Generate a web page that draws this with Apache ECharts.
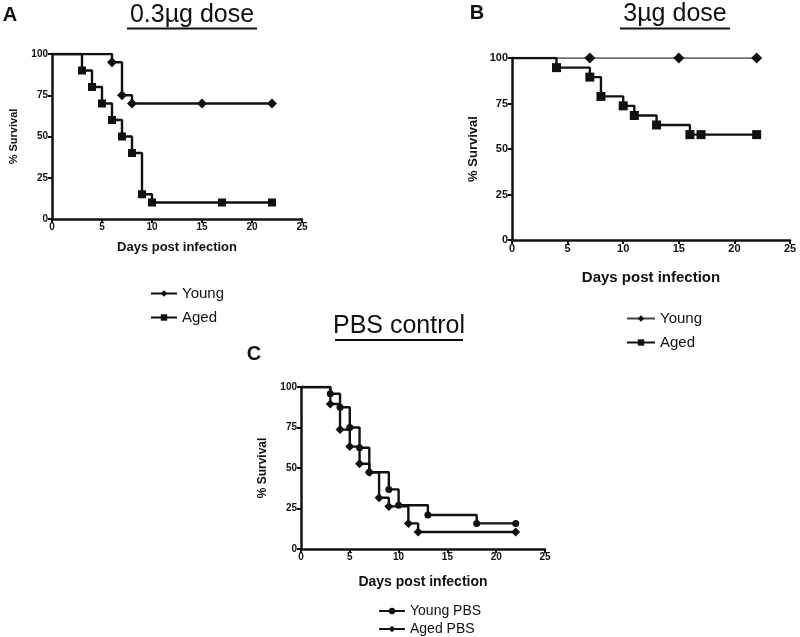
<!DOCTYPE html>
<html>
<head>
<meta charset="utf-8">
<script src="https://cdn.jsdelivr.net/npm/echarts@6/dist/echarts.min.js"></script>
<style>html,body{margin:0;padding:0;background:#fff;}#c{width:800px;height:637px;}</style>
</head>
<body>
<div id="c"></div>
<script>
// ---- data ----
const aYoungDays = [0, 6, 7, 8, 15, 22];
const aYoungVals = [100, 95, 75, 70, 70, 70];
const aAgedDays = [0, 3, 4, 5, 6, 7, 8, 9, 10, 17, 22];
const aAgedVals = [100, 90, 80, 70, 60, 50, 40, 15, 10, 10, 10];
const bYoungDays = [0, 7, 15, 22];
const bYoungVals = [100, 100, 100, 100];
const bAgedDays = [0, 4, 7, 8, 10, 11, 13, 16, 17, 22];
const bAgedVals = [100, 94.7, 89.5, 78.9, 73.7, 68.4, 63.2, 57.9, 57.9, 57.9];
const cYoungDays = [0, 3, 4, 5, 6, 7, 9, 10, 13, 18, 22];
const cYoungVals = [100, 95.8, 87.5, 75, 62.5, 47.4, 36.8, 27, 21, 15.8, 15.8];
const cAgedDays = [0, 3, 4, 5, 6, 7, 8, 9, 11, 12, 22];
const cAgedVals = [100, 89.5, 73.7, 63.2, 52.6, 47.4, 31.6, 26.3, 15.8, 10.5, 10.5];
const panelTitles = ['0.3µg dose', '3µg dose', 'PBS control'];
const panelLetters = ['A', 'B', 'C'];
const xName = 'Days post infection';
const yName = '% Survival';

function km(days, vals) {
  return days.map((d, i) => i === 0 ? { value: [d, vals[i]], symbol: 'none' } : [d, vals[i]]);
}

const FONT = 'Liberation Sans, Arial, sans-serif';
const INK = '#111';

function xAxis(gi, gap, nameSize, labSize) {
  return {
    type: 'value', gridIndex: gi, min: 0, max: 25, interval: 5,
    name: xName, nameLocation: 'middle', nameGap: gap,
    nameTextStyle: { fontFamily: FONT, fontWeight: 'bold', fontSize: nameSize, color: INK },
    axisLine: { lineStyle: { color: INK, width: 2.5 } },
    axisTick: { show: true, length: 4, lineStyle: { color: INK, width: 2 } },
    axisLabel: { fontFamily: FONT, fontWeight: 'bold', fontSize: labSize, color: INK, margin: 3 },
    splitLine: { show: false }
  };
}
function yAxis(gi, gap, nameSize, labSize) {
  return {
    type: 'value', gridIndex: gi, min: 0, max: 100, interval: 25,
    name: yName, nameLocation: 'middle', nameGap: gap, nameRotate: 90,
    nameTextStyle: { fontFamily: FONT, fontWeight: 'bold', fontSize: nameSize, color: INK },
    axisLine: { show: true, lineStyle: { color: INK, width: 2.5 } },
    axisTick: { show: true, length: 4, lineStyle: { color: INK, width: 2 } },
    axisLabel: { fontFamily: FONT, fontWeight: 'bold', fontSize: labSize, color: INK, margin: 4 },
    splitLine: { show: false }
  };
}
function ser(name, gi, days, vals, symbol, size, width, color) {
  return {
    name: name, type: 'line', step: 'end', xAxisIndex: gi, yAxisIndex: gi,
    data: km(days, vals), symbol: symbol, symbolSize: size, showSymbol: true,
    lineStyle: { color: color || INK, width: width || 2.4 },
    itemStyle: { color: INK },
    animation: false, z: 3
  };
}

const chart = echarts.init(document.getElementById('c'), null, { renderer: 'canvas' });

function titleGroup(cx, cy, text, size, underlineY, halfW) {
  return [
    { type: 'text', x: cx, y: cy, style: { text: text, font: 'normal ' + size + 'px ' + FONT, fill: INK, textAlign: 'center', textVerticalAlign: 'middle' } },
    { type: 'line', shape: { x1: cx - halfW, y1: underlineY, x2: cx + halfW, y2: underlineY }, style: { stroke: INK, lineWidth: 2.2 } }
  ];
}

const graphics = [].concat(
  [{ type: 'text', x: 10, y: 15, style: { text: panelLetters[0], font: 'bold 20px ' + FONT, fill: INK, textAlign: 'center', textVerticalAlign: 'middle' } }],
  [{ type: 'text', x: 477, y: 13, style: { text: panelLetters[1], font: 'bold 20px ' + FONT, fill: INK, textAlign: 'center', textVerticalAlign: 'middle' } }],
  [{ type: 'text', x: 254, y: 354, style: { text: panelLetters[2], font: 'bold 20px ' + FONT, fill: INK, textAlign: 'center', textVerticalAlign: 'middle' } }],
  titleGroup(192, 15, panelTitles[0], 25, 28.5, 65),
  titleGroup(675, 14, panelTitles[1], 25, 28.5, 55),
  titleGroup(399, 326, panelTitles[2], 25, 340, 64)
);

chart.setOption({
  backgroundColor: '#fff',
  animation: false,
  grid: [
    { left: 52, top: 54, width: 250, height: 165 },
    { left: 512, top: 58, width: 278, height: 182 },
    { left: 301, top: 387, width: 244, height: 162 }
  ],
  xAxis: [xAxis(0, 22, 13, 10), xAxis(1, 30, 15, 11), xAxis(2, 26, 14, 10)],
  yAxis: [yAxis(0, 33, 11, 10), yAxis(1, 32, 13, 11), yAxis(2, 32, 12, 10)],
  legend: [
    { data: ['Young', 'Aged'], orient: 'vertical', left: 145, top: 281, itemGap: 9, itemWidth: 26, itemHeight: 8,
      textStyle: { fontFamily: FONT, fontSize: 15, color: INK } },
    { data: ['Young ', 'Aged '], orient: 'vertical', left: 621, top: 306, itemGap: 9, itemWidth: 28, itemHeight: 8,
      textStyle: { fontFamily: FONT, fontSize: 15, color: INK } },
    { data: ['Young PBS', 'Aged PBS'], orient: 'vertical', left: 373, top: 598, height: 60, itemGap: 2, itemWidth: 26, itemHeight: 8,
      textStyle: { fontFamily: FONT, fontSize: 14, lineHeight: 16, color: INK } }
  ],
  series: [
    ser('Young', 0, aYoungDays, aYoungVals, 'diamond', 10),
    ser('Aged', 0, aAgedDays, aAgedVals, 'rect', 8),
    ser('Young ', 1, bYoungDays, bYoungVals, 'diamond', 11, 1.6, '#444'),
    ser('Aged ', 1, bAgedDays, bAgedVals, 'rect', 9),
    ser('Young PBS', 2, cYoungDays, cYoungVals, 'circle', 7),
    ser('Aged PBS', 2, cAgedDays, cAgedVals, 'diamond', 9)
  ],
  graphic: graphics
});
</script>
</body>
</html>
